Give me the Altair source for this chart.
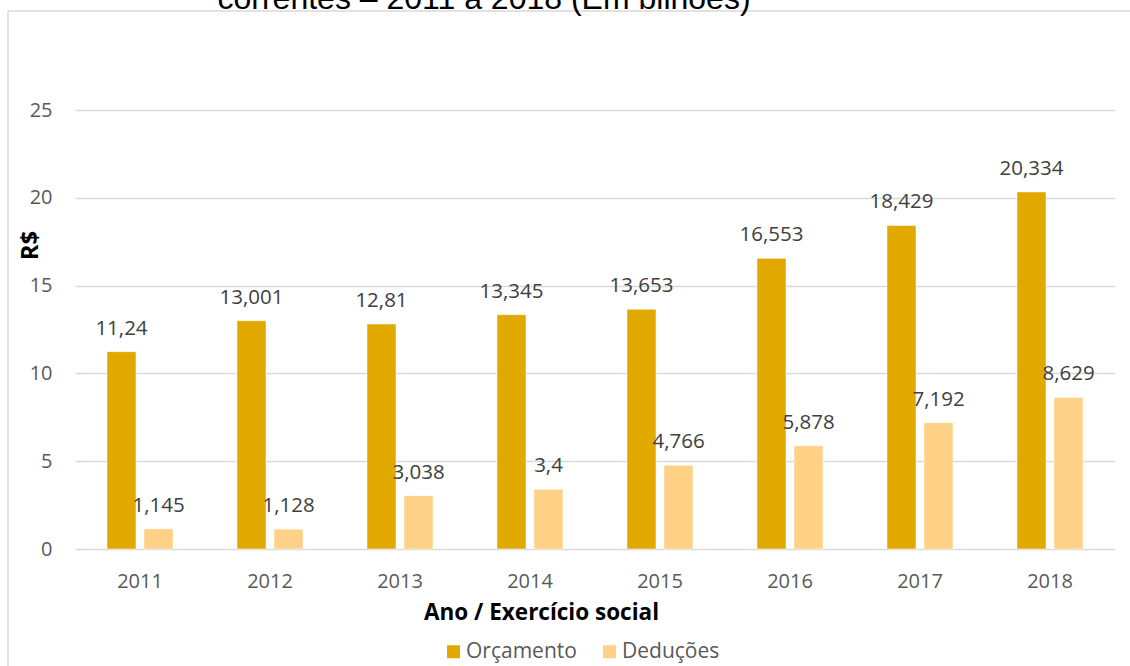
import altair as alt
import pandas as pd

years = ["2011", "2012", "2013", "2014", "2015", "2016", "2017", "2018"]
orcamento = [11.24, 13.001, 12.81, 13.345, 13.653, 16.553, 18.429, 20.334]
deducoes = [1.145, 1.128, 3.038, 3.4, 4.766, 5.878, 7.192, 8.629]
orc_labels = ["11,24", "13,001", "12,81", "13,345", "13,653", "16,553", "18,429", "20,334"]
ded_labels = ["1,145", "1,128", "3,038", "3,4", "4,766", "5,878", "7,192", "8,629"]
series = ["Orçamento", "Deduções"]
colors = ["#E1A900", "#FFD187"]
title_text = "correntes – 2011 a 2018 (Em bilhões)"

rows = []
for i, y in enumerate(years):
    rows.append({"ano": y, "serie": series[0], "valor": orcamento[i], "rotulo": orc_labels[i]})
    rows.append({"ano": y, "serie": series[1], "valor": deducoes[i], "rotulo": ded_labels[i]})
df = pd.DataFrame(rows)

FONT = "Open Sans"

x_enc = alt.X("ano:N", sort=years, scale=alt.Scale(paddingInner=0.492, paddingOuter=0.246),
              axis=alt.Axis(title="Ano / Exercício social", labelAngle=0, domain=False, ticks=False,
                            labelPadding=22, labelFontSize=20, labelColor="#595959", labelFont=FONT,
                            titleFont=FONT, titleFontSize=22.5, titleFontWeight="bold", titleColor="#000000",
                            titleX=466, titleY=70, titleBaseline="alphabetic", titleAlign="center",
                            grid=False))
xo_enc = alt.XOffset("serie:N", sort=series, scale=alt.Scale(paddingInner=0.216, paddingOuter=0))
y_enc = alt.Y("valor:Q", scale=alt.Scale(domain=[0, 25], nice=False),
              axis=alt.Axis(title="R$", values=[0, 5, 10, 15, 20, 25], domain=False, ticks=False,
                            labelPadding=23, labelFontSize=20, labelColor="#595959", labelFont=FONT,
                            gridColor="#D9D9D9", gridWidth=1.5,
                            titleFont=FONT, titleFontSize=24, titleFontWeight="bold", titleColor="#000000",
                            titleX=-45, titleY=135, titleAngle=-90, titleBaseline="middle",
                            titleAlign="center"))

base = alt.Chart(df)

bars = base.mark_bar(stroke="#FFFFFF", strokeWidth=0.5).encode(
    x=x_enc,
    xOffset=xo_enc,
    y=y_enc,
    color=alt.Color("serie:N", sort=series, scale=alt.Scale(domain=series, range=colors),
                    legend=alt.Legend(title=None, orient="none", legendX=368, legendY=531,
                                      direction="horizontal", symbolType="square", symbolSize=169,
                                      symbolStrokeWidth=0, labelFontSize=21, labelFont=FONT,
                                      labelColor="#595959", labelOffset=2, columnPadding=22)),
)

labels = base.mark_text(baseline="alphabetic", dy=-17, fontSize=20.5, font=FONT, color="#404040").encode(
    x=alt.X("ano:N", sort=years),
    xOffset=alt.XOffset("serie:N", sort=series),
    y="valor:Q",
    text="rotulo:N",
)

title_df = pd.DataFrame({"t": [title_text]})
title = alt.Chart(title_df).mark_text(font="Liberation Sans", fontSize=32, color="#000000",
                                      baseline="alphabetic", align="center").encode(
    text="t:N", x=alt.value(409), y=alt.value(-101)
)

frame_left = alt.Chart(title_df).mark_rule(color="#D9D9D9", strokeWidth=1.5).encode(
    x=alt.value(-67), y=alt.value(-99), y2=alt.value(600)
)
frame_top = alt.Chart(title_df).mark_rule(color="#D9D9D9", strokeWidth=1.5).encode(
    x=alt.value(-67), x2=alt.value(1100), y=alt.value(-99)
)

chart = alt.layer(frame_left, frame_top, title, bars, labels).properties(
    width=1040, height=439,
    autosize=alt.AutoSizeParams(type="none"),
    padding={"left": 75, "top": 110, "right": 15, "bottom": 117},
    background="#FFFFFF",
).configure_view(stroke=None)

chart.save("out.html", embed_options={"renderer": "svg", "actions": False})
